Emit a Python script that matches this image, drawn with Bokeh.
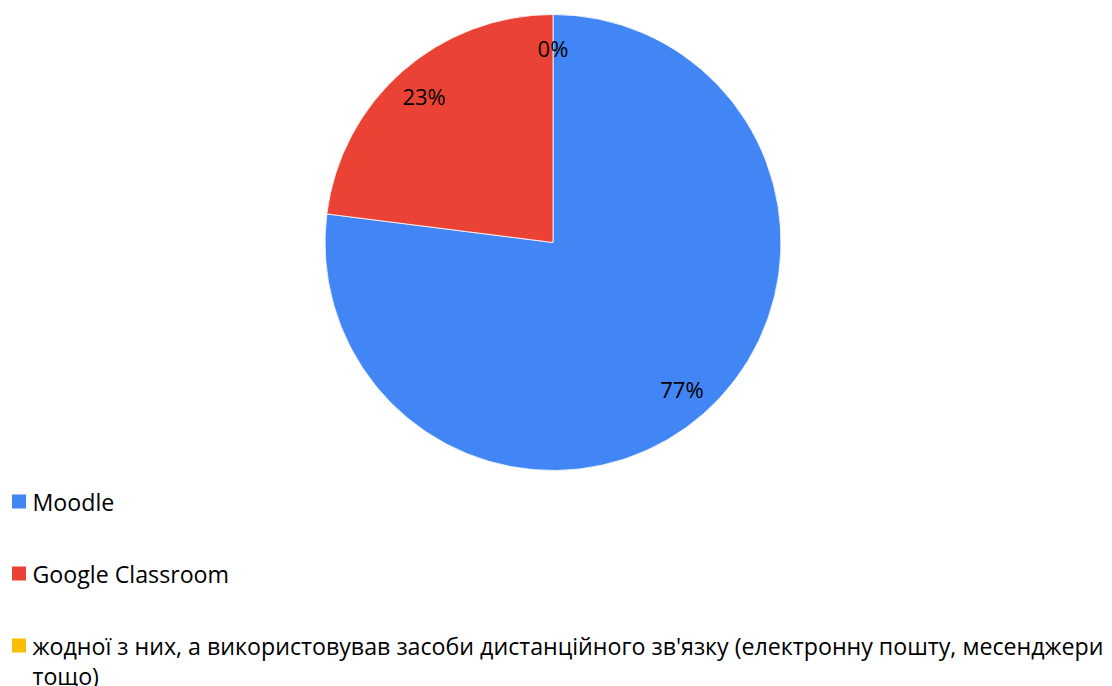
import numpy as np
from bokeh.plotting import figure
from bokeh.models import Range1d, ColumnDataSource
from bokeh.core.properties import value
from bokeh.embed import file_html
from bokeh.resources import INLINE

categories = ["Moodle", "Google Classroom",
              "жодної з них, а використовував засоби дистанційного зв'язку (електронну пошту, месенджери\nтощо)"]
values = [77, 23, 0]
pct_labels = ["77%", "23%", "0%"]
colors = ["#4285F4", "#EA4335", "#FBBC04"]

W, H = 1112, 686
FONT = "Open Sans"

p = figure(width=W, height=H, output_backend="svg", toolbar_location=None,
           x_range=Range1d(0, W), y_range=Range1d(0, H), min_border=0)
p.axis.visible = False
p.grid.visible = False
p.outline_line_color = None
p.background_fill_color = "white"

# reference pixel -> data
def px(X):
    return X
def py(Y):
    return H - Y

cx, cy, R = px(552.5), py(242), 228
vals = np.array(values, dtype=float)
frac = vals / vals.sum()
# clockwise from top
ends = np.pi / 2 - 2 * np.pi * np.concatenate([[0], np.cumsum(frac)[:-1]])
starts = ends - 2 * np.pi * frac
mids = (starts + ends) / 2

nz = vals > 0
src = ColumnDataSource(dict(start=starts[nz], end=ends[nz],
                            color=[c for c, k in zip(colors, nz) if k]))
p.wedge(x=cx, y=cy, radius=R, start_angle="start", end_angle="end",
        fill_color="color", line_color="white", line_width=0.8, source=src)

lr = 0.855 * R
p.text(x=cx + lr * np.cos(mids), y=cy + lr * np.sin(mids), text=pct_labels,
       text_font=value(FONT), text_font_size="22px", text_color="#000000",
       text_align="center", text_baseline="middle")

# legend
leg_y = [py(501), py(573), py(645)]
p.rect(x=[px(18.5)] * 3, y=leg_y, width=14, height=14, fill_color=colors, line_color=None)
p.text(x=[px(32)] * 3, y=[y + 16 for y in leg_y], text=categories,
       text_font=value(FONT), text_font_size="23.2px", text_color="#000000",
       text_align="left", text_baseline="top", text_line_height=0.95)

open("out.html", "w").write(file_html(p, INLINE))
